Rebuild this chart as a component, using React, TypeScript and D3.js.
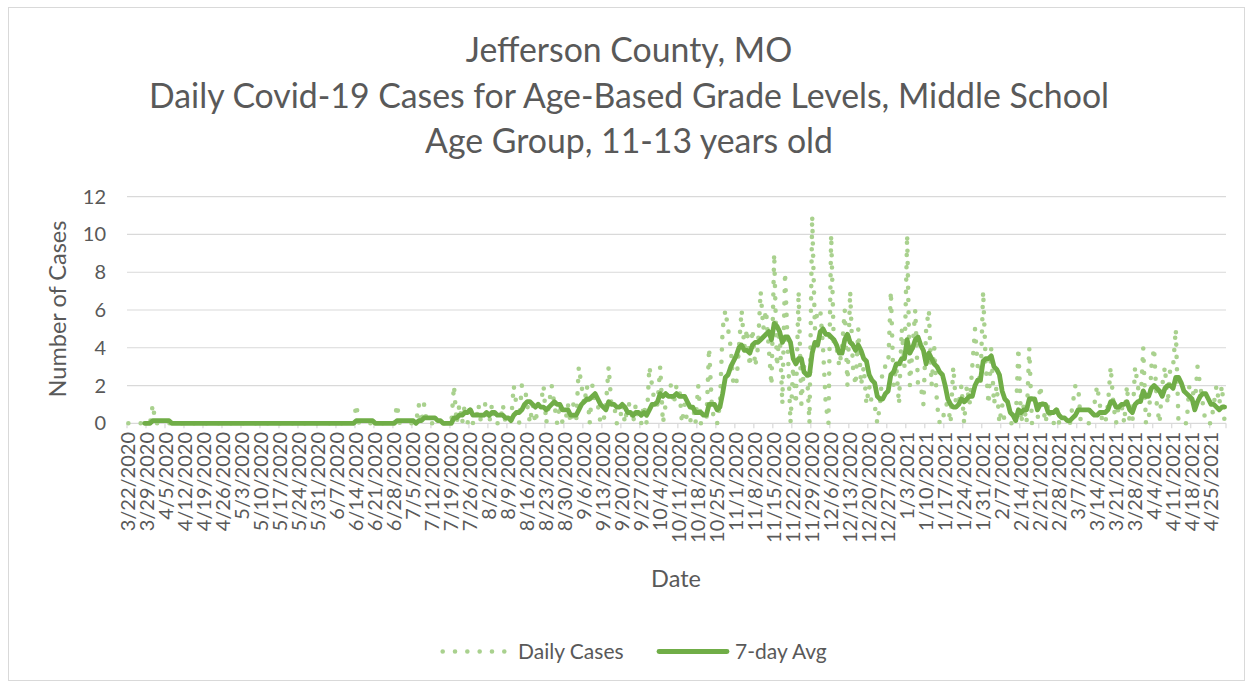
import React from 'react';
import * as d3 from 'd3';

const TITLE_LINES = [
  'Jefferson County, MO',
  'Daily Covid-19 Cases for Age-Based Grade Levels, Middle School',
  'Age Group, 11-13 years old',
];

const X_TICK_LABELS = [
  '3/22/2020', '3/29/2020', '4/5/2020', '4/12/2020', '4/19/2020', '4/26/2020', '5/3/2020', '5/10/2020',
  '5/17/2020', '5/24/2020', '5/31/2020', '6/7/2020', '6/14/2020', '6/21/2020', '6/28/2020', '7/5/2020',
  '7/12/2020', '7/19/2020', '7/26/2020', '8/2/2020', '8/9/2020', '8/16/2020', '8/23/2020', '8/30/2020',
  '9/6/2020', '9/13/2020', '9/20/2020', '9/27/2020', '10/4/2020', '10/11/2020', '10/18/2020', '10/25/2020',
  '11/1/2020', '11/8/2020', '11/15/2020', '11/22/2020', '11/29/2020', '12/6/2020', '12/13/2020', '12/20/2020',
  '12/27/2020', '1/3/2021', '1/10/2021', '1/17/2021', '1/24/2021', '1/31/2021', '2/7/2021', '2/14/2021',
  '2/21/2021', '2/28/2021', '3/7/2021', '3/14/2021', '3/21/2021', '3/28/2021', '4/4/2021', '4/11/2021',
  '4/18/2021', '4/25/2021',
];

const Y_TICKS = [0, 2, 4, 6, 8, 10, 12];

// Daily cases, one row per week (each row starts on the Sunday of the tick label)
const DAILY_CASES = [
  0, 0, 0, 0, 0, 0, 0, // 3/22/2020
  0, 0, 1, 0, 0, 0, 0, // 3/29
  0, 0, 0, 0, 0, 0, 0, // 4/5
  0, 0, 0, 0, 0, 0, 0, // 4/12
  0, 0, 0, 0, 0, 0, 0, // 4/19
  0, 0, 0, 0, 0, 0, 0, // 4/26
  0, 0, 0, 0, 0, 0, 0, // 5/3
  0, 0, 0, 0, 0, 0, 0, // 5/10
  0, 0, 0, 0, 0, 0, 0, // 5/17
  0, 0, 0, 0, 0, 0, 0, // 5/24
  0, 0, 0, 0, 0, 0, 0, // 5/31
  0, 0, 0, 0, 0, 0, 0, // 6/7
  1, 0, 0, 0, 0, 0, 0, // 6/14
  0, 0, 0, 0, 0, 0, 0, // 6/21
  0, 1, 0, 0, 0, 0, 0, // 6/28
  0, 0, 1, 0, 1, 0, 0, // 7/5
  0, 0, 0, 0, 0, 0, 0, // 7/12
  0, 2, 0, 1, 0, 1, 0, // 7/19
  1, 0, 0, 1, 0, 1, 1, // 7/26
  0, 1, 0, 0, 0, 1, 0, // 8/2
  0, 0, 2, 1, 0, 2, 2, // 8/9
  1, 0, 1, 0, 1, 1, 2, // 8/16
  0, 1, 2, 1, 0, 1, 0, // 8/23
  0, 1, 0, 1, 0, 3, 2, // 8/30
  1, 2, 0, 2, 1, 1, 0, // 9/6
  0, 1, 3, 1, 1, 0, 0, // 9/13
  1, 0, 1, 1, 0, 1, 0, // 9/20
  0, 1, 0, 3, 2, 1, 1, // 9/27
  3, 0, 1, 2, 2, 1, 2, // 10/4
  2, 0, 1, 0, 0, 1, 0, // 10/11
  2, 0, 0, 0, 4, 1, 0, // 10/18
  0, 1, 5, 6, 5, 4, 2, // 10/25
  2, 4, 6, 4, 5, 3, 5, // 11/1
  3, 4, 7, 5, 6, 4, 2, // 11/8
  9, 3, 5, 1, 8, 4, 0, // 11/15
  3, 1, 7, 1, 3, 3, 0, // 11/22
  11, 5, 6, 6, 4, 1, 0, // 11/29
  10, 4, 4, 3, 4, 6, 2, // 12/6
  7, 3, 2, 5, 2, 3, 1, // 12/13
  2, 1, 1, 0, 1, 3, 3, // 12/20
  3, 7, 2, 3, 1, 5, 3, // 12/27
  10, 2, 4, 6, 2, 2, 1, // 1/3/2021
  5, 6, 2, 4, 1, 0, 0, // 1/10
  1, 1, 0, 3, 1, 1, 2, // 1/17
  0, 2, 1, 3, 5, 3, 2, // 1/24
  7, 3, 1, 4, 1, 2, 0, // 1/31
  1, 0, 0, 0, 0, 0, 4, // 2/7
  0, 1, 0, 4, 0, 0, 0, // 2/14
  2, 1, 0, 1, 0, 0, 1, // 2/21
  0, 0, 0, 0, 0, 1, 2, // 2/28
  2, 0, 0, 0, 0, 0, 1, // 3/7
  2, 1, 0, 0, 1, 3, 1, // 3/14
  0, 1, 1, 0, 2, 0, 0, // 3/21
  3, 2, 1, 4, 0, 0, 3, // 3/28
  4, 1, 0, 2, 3, 1, 3, // 4/4
  3, 5, 0, 0, 0, 0, 2, // 4/11
  2, 1, 3, 2, 1, 0, 0, // 4/18
  0, 1, 2, 1, 2, 0, // 4/25 - 4/30
];

const SERIES_NAMES = ['Daily Cases', '7-day Avg'];
const COLORS = { daily: '#A9D18E', avg: '#70AD47', text: '#595959', grid: '#D9D9D9' };
const FONT = "Lato, 'Open Sans', sans-serif";

export default function App() {
  const W = 1253;
  const H = 688;
  const n = DAILY_CASES.length;
  const x = d3.scaleLinear().domain([-0.5, n - 0.5]).range([127, 1226]);
  const y = d3.scaleLinear().domain([0, 12]).range([423.3, 196.7]);

  const avg: (number | null)[] = DAILY_CASES.map((_, i) =>
    i < 6 ? null : (d3.mean(DAILY_CASES.slice(i - 6, i + 1)) as number)
  );

  const dailyPath = d3
    .line<number>()
    .x((_, i) => x(i))
    .y((d) => y(d))(DAILY_CASES) as string;

  const avgPath = d3
    .line<number | null>()
    .defined((d) => d != null)
    .x((_, i) => x(i))
    .y((d) => y(d as number))(avg) as string;

  const tickMarks: number[] = [];
  for (let k = 0; 7 * k - 0.5 <= n - 0.5; k++) tickMarks.push(7 * k - 0.5);
  tickMarks.push(n - 0.5);

  const [x0, x1] = x.range();

  return (
    <svg
      width={W}
      height={H}
      style={{ position: 'absolute', left: 0, top: 0, background: '#fff' }}
      fontFamily={FONT}
    >
      <rect x={0} y={0} width={W} height={H} fill="#fff" />
      <rect x={8.5} y={7.5} width={1236} height={673} fill="none" stroke={COLORS.grid} strokeWidth={1} />

      {/* Title */}
      {TITLE_LINES.map((t, i) => (
        <text key={t} x={629} y={62 + i * 45.5} textAnchor="middle" fontSize={33.8} fill={COLORS.text}>
          {t}
        </text>
      ))}

      {/* Grid lines & y ticks */}
      {Y_TICKS.map((v) => (
        <g key={v}>
          <line x1={x0} x2={x1} y1={y(v)} y2={y(v)} stroke={COLORS.grid} strokeWidth={1.2} />
          <text x={106} y={y(v) + 7} textAnchor="end" fontSize={20} fill={COLORS.text}>
            {v}
          </text>
        </g>
      ))}

      {/* x axis tick marks */}
      {tickMarks.map((t, i) => (
        <line key={i} x1={x(t)} x2={x(t)} y1={y(0)} y2={y(0) + 5} stroke={COLORS.grid} strokeWidth={1.2} />
      ))}

      {/* x tick labels */}
      {X_TICK_LABELS.map((lab, i) => {
        const cx = x(i * 7);
        return (
          <text
            key={lab}
            transform={`translate(${cx + 7},432) rotate(-90)`}
            textAnchor="end"
            fontSize={20}
            fill={COLORS.text}
          >
            {lab}
          </text>
        );
      })}

      {/* Axis titles */}
      <text
        transform={`translate(66,309) rotate(-90)`}
        textAnchor="middle"
        fontSize={23.5}
        fill={COLORS.text}
      >
        Number of Cases
      </text>
      <text x={676} y={587} textAnchor="middle" fontSize={23.5} fill={COLORS.text}>
        Date
      </text>

      {/* Series */}
      <path
        d={dailyPath}
        fill="none"
        stroke={COLORS.daily}
        strokeWidth={4.6}
        strokeDasharray="0 12.3"
        strokeLinecap="round"
        strokeLinejoin="round"
      />
      <path d={avgPath} fill="none" stroke={COLORS.avg} strokeWidth={4.8} strokeLinecap="round" strokeLinejoin="round" />

      {/* Legend */}
      <line
        x1={442.7}
        x2={504.5}
        y1={651.5}
        y2={651.5}
        stroke={COLORS.daily}
        strokeWidth={4.6}
        strokeDasharray="0 12.32"
        strokeLinecap="round"
      />
      <text x={518} y={658.5} fontSize={21} fill={COLORS.text}>
        {SERIES_NAMES[0]}
      </text>
      <line x1={659} x2={727} y1={651.5} y2={651.5} stroke={COLORS.avg} strokeWidth={4.8} strokeLinecap="round" />
      <text x={735} y={658.5} fontSize={21} fill={COLORS.text}>
        {SERIES_NAMES[1]}
      </text>
    </svg>
  );
}
